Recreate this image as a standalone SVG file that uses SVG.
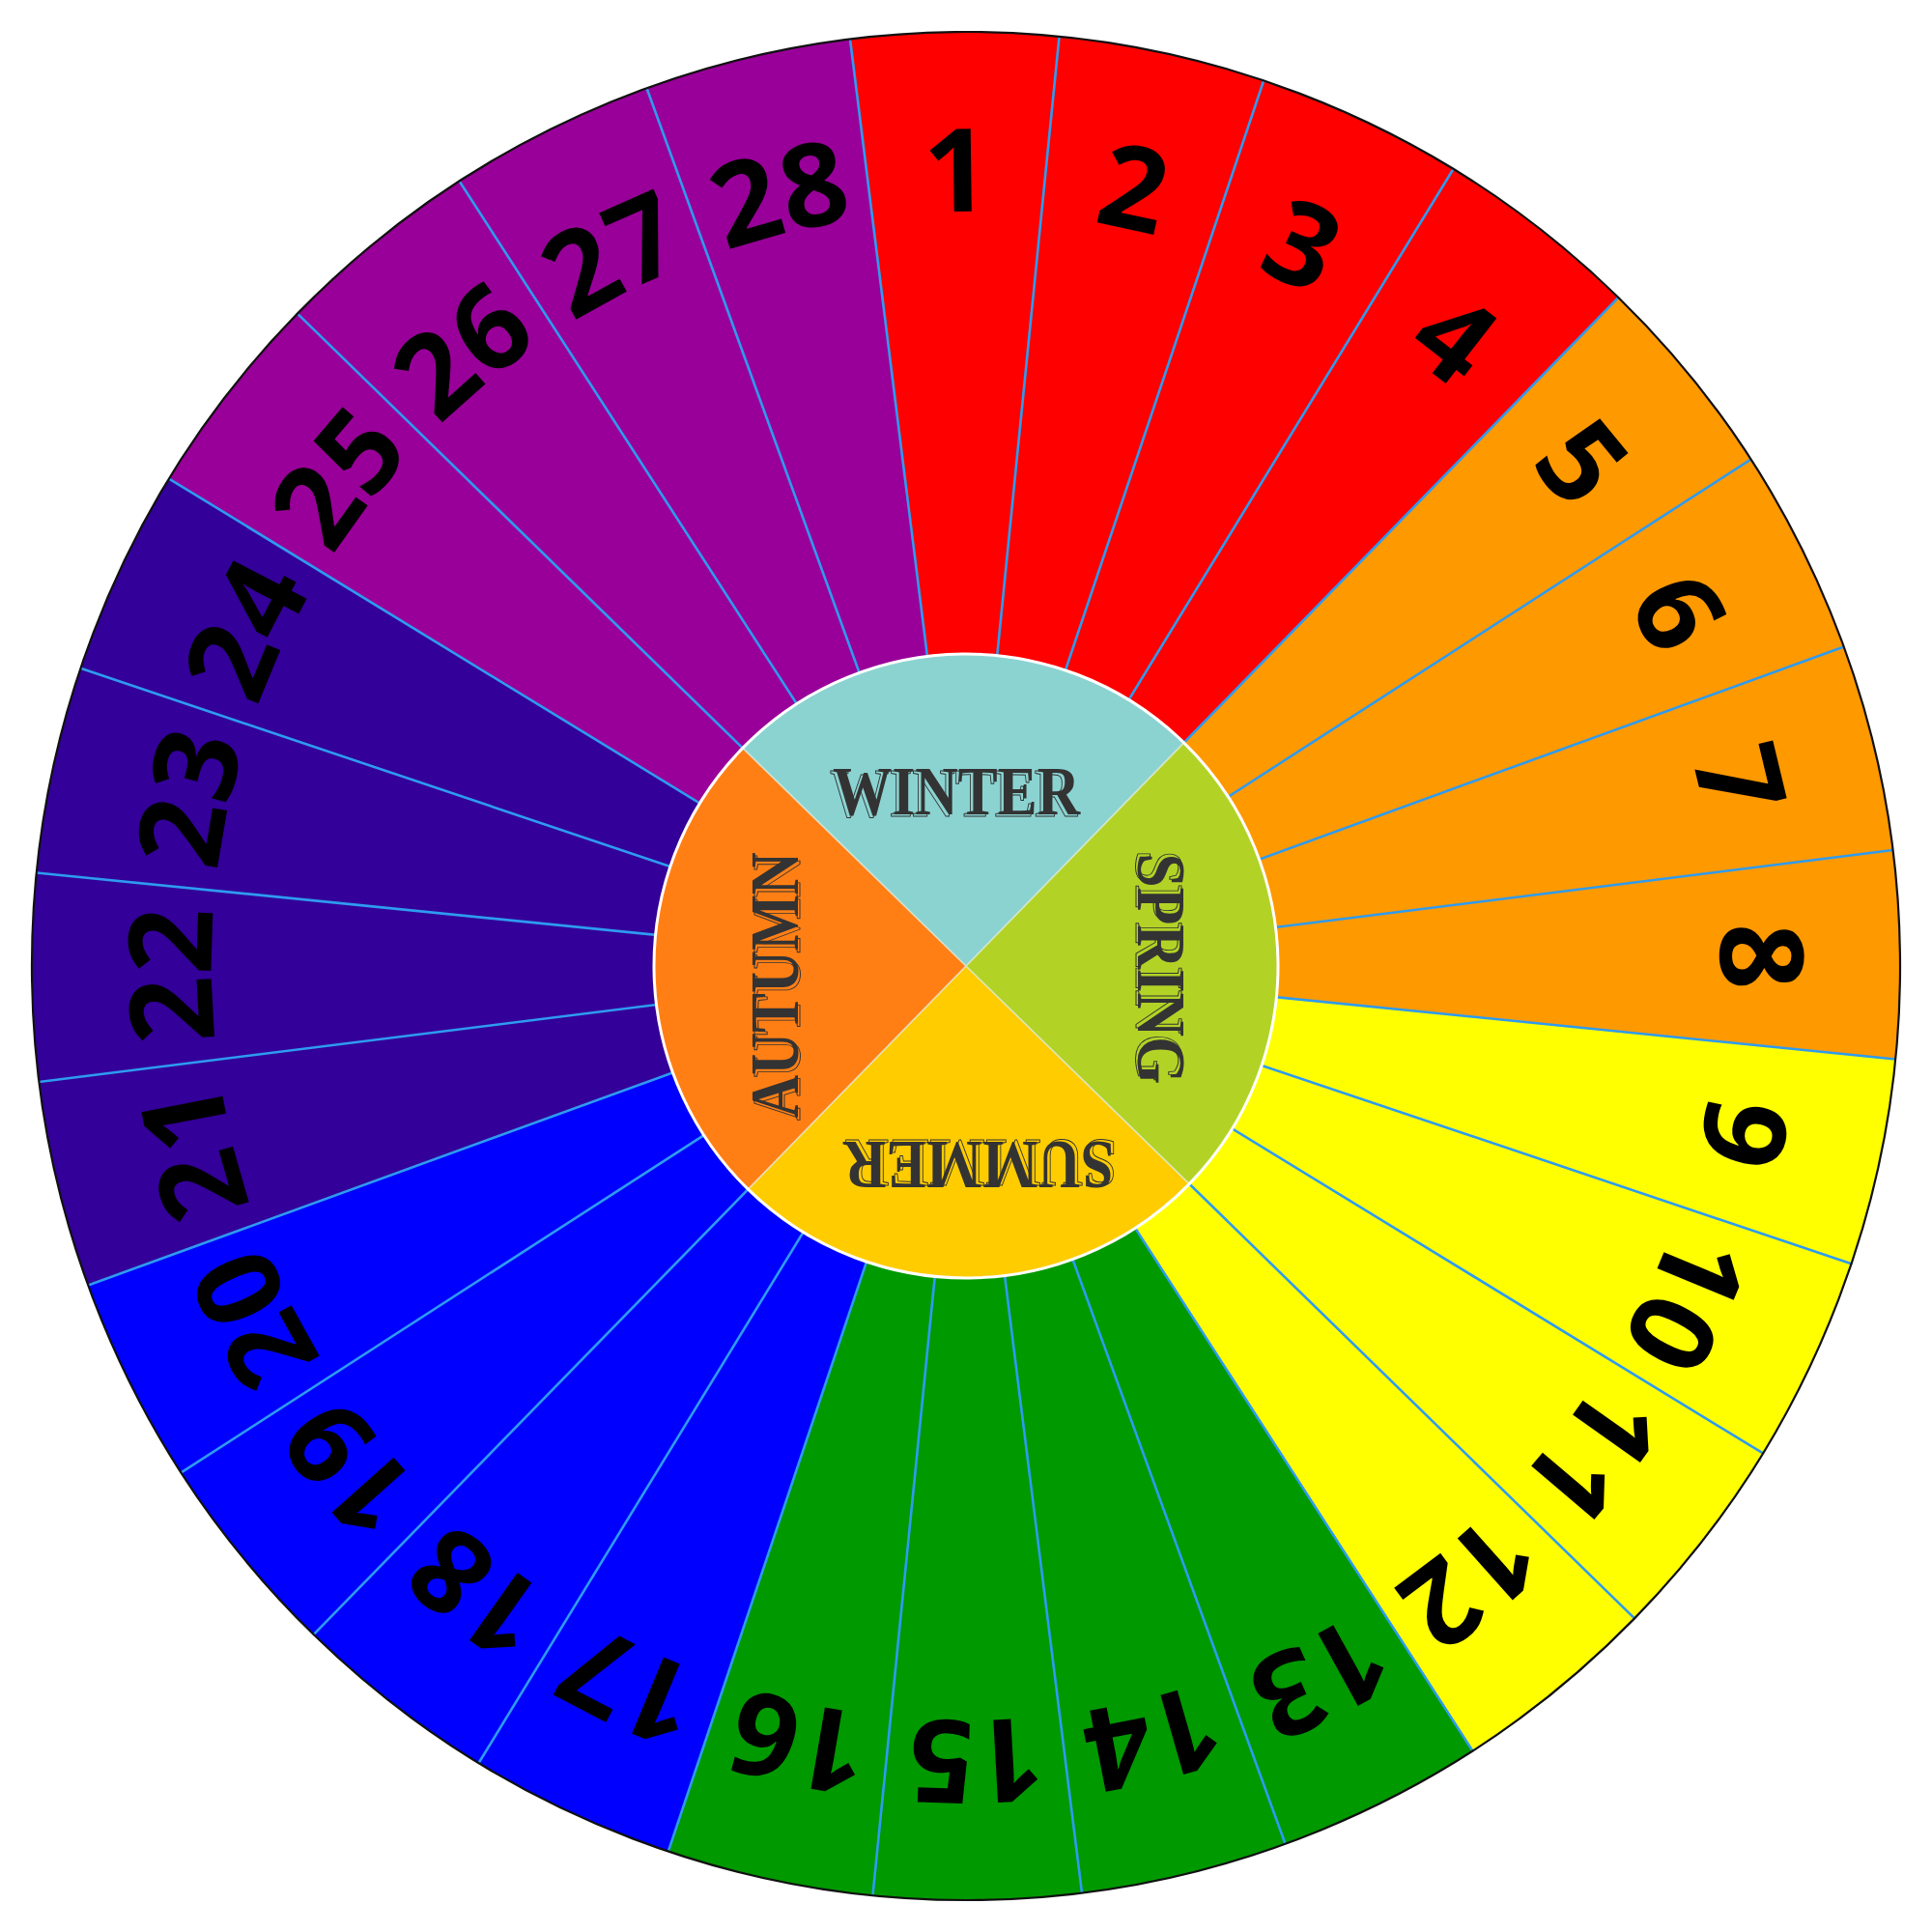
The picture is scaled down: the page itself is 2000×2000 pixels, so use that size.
<svg xmlns="http://www.w3.org/2000/svg" width="2000" height="2000" viewBox="0 0 2000 2000">
<style>
.red{fill:#FF0000}.orange{fill:#FF9900}.yellow{fill:#FFFF00}.green{fill:#009900}.blue{fill:#0000FF}.indigo{fill:#330099}.purple{fill:#990099}
.sep{stroke:#2E9BF0;stroke-width:2.6}
.num{font-family:"Open Sans","Noto Sans",sans-serif;font-weight:700;font-size:120px;fill:#000;text-anchor:middle}
.season{font-family:"Liberation Serif","Times New Roman",serif;font-weight:700;font-size:72px;fill:#333;text-anchor:middle}
.season-o{font-family:"Liberation Serif","Times New Roman",serif;font-weight:700;font-size:72px;fill:none;stroke:#333;stroke-width:1;text-anchor:middle}
</style>
<defs>
<path id="sector" d="M1000,1000 L1000,33 A967,967 0 0 1 1215.18,57.24 Z"/>
<line id="sepline" class="sep" x1="1000" y1="1000" x2="1000" y2="33"/>
<path id="quad" d="M1000,1000 L771.6,771.6 A323,323 0 0 1 1228.4,771.6 Z"/>
</defs>
<rect width="2000" height="2000" fill="#fff"/>
<g id="wheel" transform="rotate(-0.7 1000 1000)">
<g id="segments">
<g id="seg-1"><use href="#sector" class="red" transform="rotate(-6.4286 1000 1000)"/></g>
<g id="seg-2"><use href="#sector" class="red" transform="rotate(6.4286 1000 1000)"/></g>
<g id="seg-3"><use href="#sector" class="red" transform="rotate(19.2857 1000 1000)"/></g>
<g id="seg-4"><use href="#sector" class="red" transform="rotate(32.1429 1000 1000)"/></g>
<g id="seg-5"><use href="#sector" class="orange" transform="rotate(45 1000 1000)"/></g>
<g id="seg-6"><use href="#sector" class="orange" transform="rotate(57.8571 1000 1000)"/></g>
<g id="seg-7"><use href="#sector" class="orange" transform="rotate(70.7143 1000 1000)"/></g>
<g id="seg-8"><use href="#sector" class="orange" transform="rotate(83.5714 1000 1000)"/></g>
<g id="seg-9"><use href="#sector" class="yellow" transform="rotate(96.4286 1000 1000)"/></g>
<g id="seg-10"><use href="#sector" class="yellow" transform="rotate(109.2857 1000 1000)"/></g>
<g id="seg-11"><use href="#sector" class="yellow" transform="rotate(122.1429 1000 1000)"/></g>
<g id="seg-12"><use href="#sector" class="yellow" transform="rotate(135 1000 1000)"/></g>
<g id="seg-13"><use href="#sector" class="green" transform="rotate(147.8571 1000 1000)"/></g>
<g id="seg-14"><use href="#sector" class="green" transform="rotate(160.7143 1000 1000)"/></g>
<g id="seg-15"><use href="#sector" class="green" transform="rotate(173.5714 1000 1000)"/></g>
<g id="seg-16"><use href="#sector" class="green" transform="rotate(186.4286 1000 1000)"/></g>
<g id="seg-17"><use href="#sector" class="blue" transform="rotate(199.2857 1000 1000)"/></g>
<g id="seg-18"><use href="#sector" class="blue" transform="rotate(212.1429 1000 1000)"/></g>
<g id="seg-19"><use href="#sector" class="blue" transform="rotate(225 1000 1000)"/></g>
<g id="seg-20"><use href="#sector" class="blue" transform="rotate(237.8571 1000 1000)"/></g>
<g id="seg-21"><use href="#sector" class="indigo" transform="rotate(250.7143 1000 1000)"/></g>
<g id="seg-22"><use href="#sector" class="indigo" transform="rotate(263.5714 1000 1000)"/></g>
<g id="seg-23"><use href="#sector" class="indigo" transform="rotate(276.4286 1000 1000)"/></g>
<g id="seg-24"><use href="#sector" class="indigo" transform="rotate(289.2857 1000 1000)"/></g>
<g id="seg-25"><use href="#sector" class="purple" transform="rotate(302.1429 1000 1000)"/></g>
<g id="seg-26"><use href="#sector" class="purple" transform="rotate(315 1000 1000)"/></g>
<g id="seg-27"><use href="#sector" class="purple" transform="rotate(327.8571 1000 1000)"/></g>
<g id="seg-28"><use href="#sector" class="purple" transform="rotate(340.7143 1000 1000)"/></g>
</g>
<g id="connectors">
<use href="#sepline" transform="rotate(-6.4286 1000 1000)"/>
<use href="#sepline" transform="rotate(6.4286 1000 1000)"/>
<use href="#sepline" transform="rotate(19.2857 1000 1000)"/>
<use href="#sepline" transform="rotate(32.1429 1000 1000)"/>
<use href="#sepline" transform="rotate(45 1000 1000)"/>
<use href="#sepline" transform="rotate(57.8571 1000 1000)"/>
<use href="#sepline" transform="rotate(70.7143 1000 1000)"/>
<use href="#sepline" transform="rotate(83.5714 1000 1000)"/>
<use href="#sepline" transform="rotate(96.4286 1000 1000)"/>
<use href="#sepline" transform="rotate(109.2857 1000 1000)"/>
<use href="#sepline" transform="rotate(122.1429 1000 1000)"/>
<use href="#sepline" transform="rotate(135 1000 1000)"/>
<use href="#sepline" transform="rotate(147.8571 1000 1000)"/>
<use href="#sepline" transform="rotate(160.7143 1000 1000)"/>
<use href="#sepline" transform="rotate(173.5714 1000 1000)"/>
<use href="#sepline" transform="rotate(186.4286 1000 1000)"/>
<use href="#sepline" transform="rotate(199.2857 1000 1000)"/>
<use href="#sepline" transform="rotate(212.1429 1000 1000)"/>
<use href="#sepline" transform="rotate(225 1000 1000)"/>
<use href="#sepline" transform="rotate(237.8571 1000 1000)"/>
<use href="#sepline" transform="rotate(250.7143 1000 1000)"/>
<use href="#sepline" transform="rotate(263.5714 1000 1000)"/>
<use href="#sepline" transform="rotate(276.4286 1000 1000)"/>
<use href="#sepline" transform="rotate(289.2857 1000 1000)"/>
<use href="#sepline" transform="rotate(302.1429 1000 1000)"/>
<use href="#sepline" transform="rotate(315 1000 1000)"/>
<use href="#sepline" transform="rotate(327.8571 1000 1000)"/>
<use href="#sepline" transform="rotate(340.7143 1000 1000)"/>
</g>
<circle cx="1000" cy="1000" r="967" fill="none" stroke="#111" stroke-width="2.2"/>
<g id="labels">
<g transform="rotate(0 1000 1000)"><text class="num" x="1000" y="219">1</text></g>
<g transform="rotate(12.8571 1000 1000)"><text class="num" x="1000" y="219">2</text></g>
<g transform="rotate(25.7143 1000 1000)"><text class="num" x="1000" y="219">3</text></g>
<g transform="rotate(38.5714 1000 1000)"><text class="num" x="1000" y="219">4</text></g>
<g transform="rotate(51.4286 1000 1000)"><text class="num" x="1000" y="219">5</text></g>
<g transform="rotate(64.2857 1000 1000)"><text class="num" x="1000" y="219">6</text></g>
<g transform="rotate(77.1429 1000 1000)"><text class="num" x="1000" y="219">7</text></g>
<g transform="rotate(90 1000 1000)"><text class="num" x="1000" y="219">8</text></g>
<g transform="rotate(102.8571 1000 1000)"><text class="num" x="1000" y="219">9</text></g>
<g transform="rotate(115.7143 1000 1000)"><text class="num" x="1000" y="219" transform="rotate(-2.5 1000 1000)">1</text><text class="num" x="1000" y="219" transform="rotate(2.5 1000 1000)">0</text></g>
<g transform="rotate(128.5714 1000 1000)"><text class="num" x="1000" y="219" transform="rotate(-2.5 1000 1000)">1</text><text class="num" x="1000" y="219" transform="rotate(2.5 1000 1000)">1</text></g>
<g transform="rotate(141.4286 1000 1000)"><text class="num" x="1000" y="219" transform="rotate(-2.5 1000 1000)">1</text><text class="num" x="1000" y="219" transform="rotate(2.5 1000 1000)">2</text></g>
<g transform="rotate(154.2857 1000 1000)"><text class="num" x="1000" y="219" transform="rotate(-2.5 1000 1000)">1</text><text class="num" x="1000" y="219" transform="rotate(2.5 1000 1000)">3</text></g>
<g transform="rotate(167.1429 1000 1000)"><text class="num" x="1000" y="219" transform="rotate(-2.5 1000 1000)">1</text><text class="num" x="1000" y="219" transform="rotate(2.5 1000 1000)">4</text></g>
<g transform="rotate(180 1000 1000)"><text class="num" x="1000" y="219" transform="rotate(-2.5 1000 1000)">1</text><text class="num" x="1000" y="219" transform="rotate(2.5 1000 1000)">5</text></g>
<g transform="rotate(192.8571 1000 1000)"><text class="num" x="1000" y="219" transform="rotate(-2.5 1000 1000)">1</text><text class="num" x="1000" y="219" transform="rotate(2.5 1000 1000)">6</text></g>
<g transform="rotate(205.7143 1000 1000)"><text class="num" x="1000" y="219" transform="rotate(-2.5 1000 1000)">1</text><text class="num" x="1000" y="219" transform="rotate(2.5 1000 1000)">7</text></g>
<g transform="rotate(218.5714 1000 1000)"><text class="num" x="1000" y="219" transform="rotate(-2.5 1000 1000)">1</text><text class="num" x="1000" y="219" transform="rotate(2.5 1000 1000)">8</text></g>
<g transform="rotate(231.4286 1000 1000)"><text class="num" x="1000" y="219" transform="rotate(-2.5 1000 1000)">1</text><text class="num" x="1000" y="219" transform="rotate(2.5 1000 1000)">9</text></g>
<g transform="rotate(244.2857 1000 1000)"><text class="num" x="1000" y="219" transform="rotate(-2.5 1000 1000)">2</text><text class="num" x="1000" y="219" transform="rotate(2.5 1000 1000)">0</text></g>
<g transform="rotate(257.1429 1000 1000)"><text class="num" x="1000" y="219" transform="rotate(-2.5 1000 1000)">2</text><text class="num" x="1000" y="219" transform="rotate(2.5 1000 1000)">1</text></g>
<g transform="rotate(270 1000 1000)"><text class="num" x="1000" y="219" transform="rotate(-2.5 1000 1000)">2</text><text class="num" x="1000" y="219" transform="rotate(2.5 1000 1000)">2</text></g>
<g transform="rotate(282.8571 1000 1000)"><text class="num" x="1000" y="219" transform="rotate(-2.5 1000 1000)">2</text><text class="num" x="1000" y="219" transform="rotate(2.5 1000 1000)">3</text></g>
<g transform="rotate(295.7143 1000 1000)"><text class="num" x="1000" y="219" transform="rotate(-2.5 1000 1000)">2</text><text class="num" x="1000" y="219" transform="rotate(2.5 1000 1000)">4</text></g>
<g transform="rotate(308.5714 1000 1000)"><text class="num" x="1000" y="219" transform="rotate(-2.5 1000 1000)">2</text><text class="num" x="1000" y="219" transform="rotate(2.5 1000 1000)">5</text></g>
<g transform="rotate(321.4286 1000 1000)"><text class="num" x="1000" y="219" transform="rotate(-2.5 1000 1000)">2</text><text class="num" x="1000" y="219" transform="rotate(2.5 1000 1000)">6</text></g>
<g transform="rotate(334.2857 1000 1000)"><text class="num" x="1000" y="219" transform="rotate(-2.5 1000 1000)">2</text><text class="num" x="1000" y="219" transform="rotate(2.5 1000 1000)">7</text></g>
<g transform="rotate(347.1429 1000 1000)"><text class="num" x="1000" y="219" transform="rotate(-2.5 1000 1000)">2</text><text class="num" x="1000" y="219" transform="rotate(2.5 1000 1000)">8</text></g>
</g>
<g id="seasons-disc">
<use id="winter-q" href="#quad" fill="#8BD3D1"/>
<use id="spring-q" href="#quad" fill="#B2D326" transform="rotate(90 1000 1000)"/>
<use id="summer-q" href="#quad" fill="#FFCC00" transform="rotate(180 1000 1000)"/>
<use id="autumn-q" href="#quad" fill="#FF7F15" transform="rotate(270 1000 1000)"/>
<g stroke="#E6EEDC" stroke-width="1.6" opacity="0.8">
<line x1="771.6" y1="771.6" x2="1228.4" y2="1228.4"/>
<line x1="1228.4" y1="771.6" x2="771.6" y2="1228.4"/>
</g>
<circle cx="1000" cy="1000" r="323" fill="none" stroke="#fff" stroke-width="3"/>
</g>
</g>
<g id="season-labels">
<g id="winter">
<text class="season-o" x="987" y="845" textLength="256" lengthAdjust="spacingAndGlyphs">WINTER</text>
<text class="season" x="990" y="843" textLength="256" lengthAdjust="spacingAndGlyphs">WINTER</text>
</g>
<g id="spring" transform="rotate(90 1000 1000)">
<text class="season-o" x="1000" y="824" textLength="239" lengthAdjust="spacingAndGlyphs">SPRING</text>
<text class="season" x="1003" y="822" textLength="239" lengthAdjust="spacingAndGlyphs">SPRING</text>
</g>
<g id="summer" transform="rotate(180 1000 1000)">
<text class="season-o" x="984" y="820" textLength="280" lengthAdjust="spacingAndGlyphs">SUMMER</text>
<text class="season" x="987" y="818" textLength="280" lengthAdjust="spacingAndGlyphs">SUMMER</text>
</g>
<g id="autumn" transform="rotate(270 1000 1000)">
<text class="season-o" x="977.5" y="828" textLength="275" lengthAdjust="spacingAndGlyphs">AUTUMN</text>
<text class="season" x="980.5" y="826" textLength="275" lengthAdjust="spacingAndGlyphs">AUTUMN</text>
</g>
</g>
</svg>
